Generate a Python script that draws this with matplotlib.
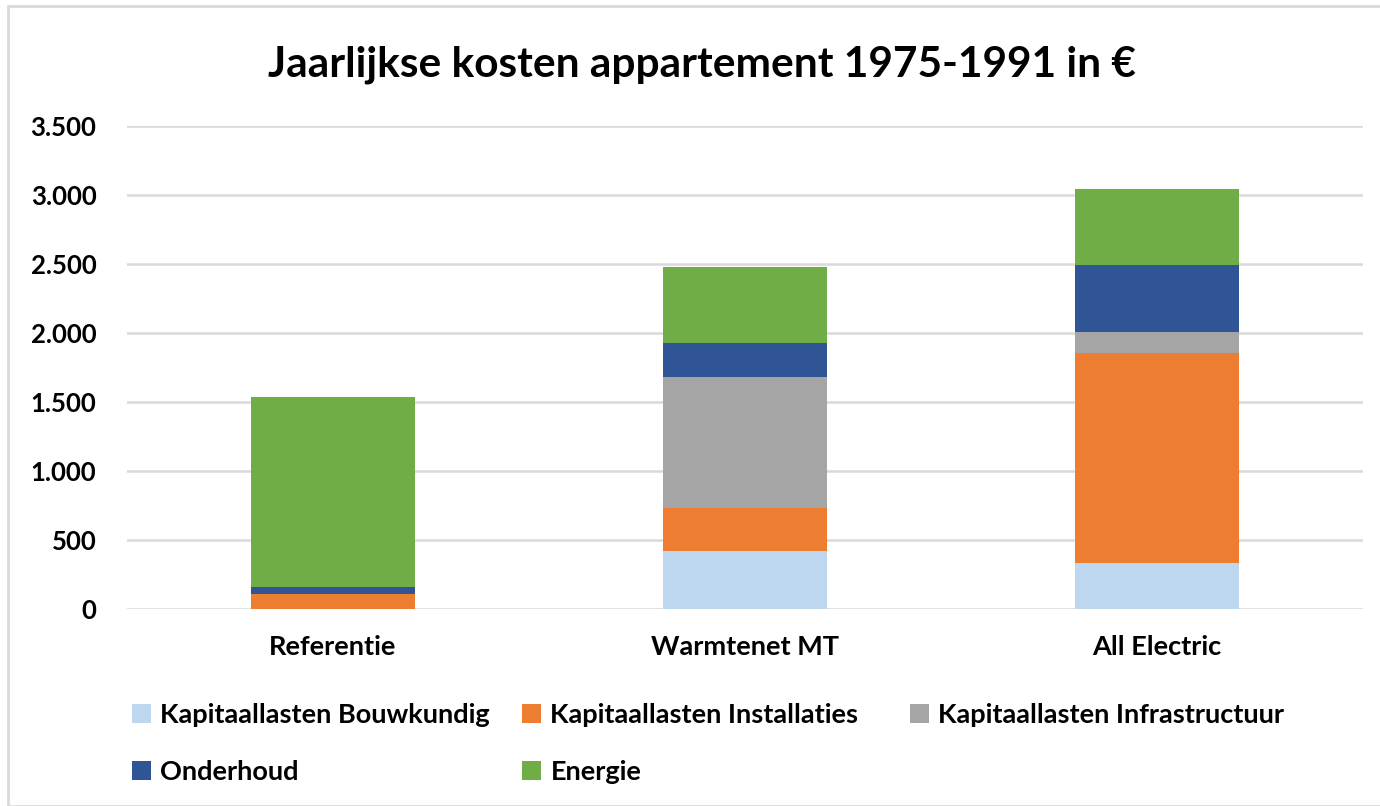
import numpy as np
import matplotlib.pyplot as plt
from matplotlib.patches import Rectangle
from matplotlib.ticker import FuncFormatter

plt.rcParams['font.family'] = ['Lato', 'DejaVu Sans']

categories = ['Referentie', 'Warmtenet MT', 'All Electric']
series_names = ['Kapitaallasten Bouwkundig', 'Kapitaallasten Installaties',
                'Kapitaallasten Infrastructuur', 'Onderhoud', 'Energie']
bouwkundig = [0, 420, 331]
installaties = [111, 310, 1522]
infrastructuur = [0, 949, 157]
onderhoud = [46, 251, 480]
energie = [1381, 550, 551]
colors = ['#BDD7EE', '#ED7D31', '#A5A5A5', '#2F5597', '#70AD47']
yticks = [0, 500, 1000, 1500, 2000, 2500, 3000, 3500]

fig = plt.figure(figsize=(13.8, 8.06), dpi=100)
ax = fig.add_axes([127/1380, 1 - 609/806, (1363-127)/1380, (609-126)/806])

x = np.arange(len(categories))
bottom = np.zeros(len(categories))
handles = []
for vals, col, name in zip([bouwkundig, installaties, infrastructuur, onderhoud, energie],
                           colors, series_names):
    b = ax.bar(x, vals, 0.4, bottom=bottom, color=col, label=name, zorder=3)
    handles.append(b)
    bottom += np.array(vals)

ax.set_xlim(-0.5, 2.5)
ax.set_ylim(0, 3500)
ax.set_yticks(yticks)
ax.yaxis.set_major_formatter(FuncFormatter(lambda v, p: f'{int(v):,}'.replace(',', '.')))
ax.set_xticks(x)
ax.set_xticklabels(categories, fontsize=19.5, fontweight='bold')
ax.tick_params(axis='y', labelsize=18.5, length=0, pad=22)
ax.tick_params(axis='x', length=0, pad=19)
for t in ax.get_yticklabels():
    t.set_fontweight('bold')
ax.grid(axis='y', color='#D9D9D9', linewidth=1.8, zorder=0)
for s in ax.spines.values():
    s.set_visible(False)

fig.text(702/1380, 1 - 65/806, 'Jaarlijkse kosten appartement 1975-1991 in €',
         ha='center', va='center', fontsize=30.5, fontweight='bold')

# legend in three columns like Excel
cols = [[0, 3], [1, 4], [2]]
xs = [132, 522, 910]
for idx, xpos in zip(cols, xs):
    fig.legend([handles[i] for i in idx], [series_names[i] for i in idx],
               loc='upper left', bbox_to_anchor=(xpos/1380, 1 - 703/806),
               frameon=False, prop={'size': 19.5, 'weight': 'bold'},
               handlelength=0.7, handleheight=0.7, handletextpad=0.35,
               labelspacing=1.2, borderaxespad=0, borderpad=0)

fig.patches.append(Rectangle((8/1380, 0), 1.1, 1 - 6/806, transform=fig.transFigure,
                             fill=False, edgecolor='#D9D9D9', linewidth=2))

fig.savefig('out.png', dpi=100)
